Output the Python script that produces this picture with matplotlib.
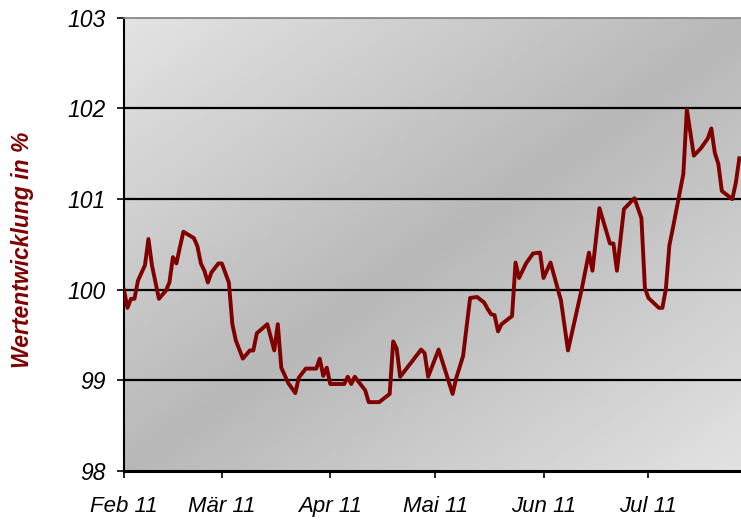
import matplotlib
matplotlib.use("Agg")
import matplotlib.pyplot as plt
import numpy as np
import pandas as pd

# values
dates = [
    "2011-02-01", "2011-02-02", "2011-02-03", "2011-02-04", "2011-02-05",
    "2011-02-07", "2011-02-08", "2011-02-09", "2011-02-11", "2011-02-13",
    "2011-02-14", "2011-02-15", "2011-02-16", "2011-02-17", "2011-02-18",
    "2011-02-21", "2011-02-22", "2011-02-23", "2011-02-24", "2011-02-25",
    "2011-02-26", "2011-02-28", "2011-03-01", "2011-03-03", "2011-03-04",
    "2011-03-05", "2011-03-07", "2011-03-09", "2011-03-10", "2011-03-11",
    "2011-03-14", "2011-03-16", "2011-03-17", "2011-03-18", "2011-03-20",
    "2011-03-22", "2011-03-23", "2011-03-25", "2011-03-28", "2011-03-29",
    "2011-03-30", "2011-03-31", "2011-04-01", "2011-04-05", "2011-04-06",
    "2011-04-07", "2011-04-08", "2011-04-11", "2011-04-12", "2011-04-15",
    "2011-04-18", "2011-04-19", "2011-04-20", "2011-04-21", "2011-04-27",
    "2011-04-28", "2011-04-29", "2011-05-02", "2011-05-06", "2011-05-07",
    "2011-05-09", "2011-05-11", "2011-05-13", "2011-05-15", "2011-05-16",
    "2011-05-17", "2011-05-18", "2011-05-19", "2011-05-20", "2011-05-23",
    "2011-05-24", "2011-05-25", "2011-05-27", "2011-05-29", "2011-05-31",
    "2011-06-01", "2011-06-03", "2011-06-06", "2011-06-08", "2011-06-12",
    "2011-06-14", "2011-06-15", "2011-06-17", "2011-06-20", "2011-06-21",
    "2011-06-22", "2011-06-24", "2011-06-27", "2011-06-29", "2011-06-30",
    "2011-07-01", "2011-07-04", "2011-07-05", "2011-07-06", "2011-07-07",
    "2011-07-08", "2011-07-11", "2011-07-12", "2011-07-14", "2011-07-16",
    "2011-07-18", "2011-07-19", "2011-07-20", "2011-07-21", "2011-07-22",
    "2011-07-25", "2011-07-26", "2011-07-27",
]
values = [
    100.00, 99.80, 99.90, 99.90, 100.10,
    100.27, 100.56, 100.27, 99.90, 99.99,
    100.08, 100.36, 100.29, 100.47, 100.64,
    100.57, 100.48, 100.29, 100.21, 100.08,
    100.19, 100.29, 100.29, 100.08, 99.62,
    99.44, 99.24, 99.33, 99.33, 99.52,
    99.62, 99.33, 99.62, 99.14, 98.97,
    98.86, 99.03, 99.13, 99.13, 99.24,
    99.05, 99.14, 98.96, 98.96, 99.04,
    98.96, 99.04, 98.89, 98.76, 98.76,
    98.85, 99.43, 99.35, 99.04, 99.34,
    99.30, 99.04, 99.34, 98.85, 99.02,
    99.27, 99.91, 99.92, 99.86, 99.79,
    99.73, 99.72, 99.54, 99.62, 99.71,
    100.30, 100.13, 100.29, 100.40, 100.41,
    100.13, 100.30, 99.88, 99.33, 100.02,
    100.41, 100.21, 100.90, 100.51, 100.51,
    100.21, 100.89, 101.01, 100.79, 100.02,
    99.91, 99.80, 99.80, 100.01, 100.49,
    100.68, 101.28, 101.99, 101.48, 101.56,
    101.67, 101.78, 101.51, 101.39, 101.09,
    101.00, 101.18, 101.45,
]
month_starts = ["2011-02-01", "2011-03-01", "2011-04-01", "2011-05-01",
                "2011-06-01", "2011-07-01"]
month_labels = ["Feb 11", "Mär 11", "Apr 11", "Mai 11", "Jun 11", "Jul 11"]
y_ticks = [98, 99, 100, 101, 102, 103]

plt.rcParams['font.family'] = ['Liberation Sans', 'DejaVu Sans']

fig = plt.figure(figsize=(7.41, 5.30), dpi=100)
fig.patch.set_facecolor('white')
# axes runs past the right edge, as in the reference
ax = fig.add_axes([0.1673, 0.1113, 0.854, 0.855])

# diagonal grey gradient background
n = 200
u, v = np.meshgrid(np.linspace(0, 1, n), np.linspace(0, 1, n))
z = 0.72 + (0.89 - 0.72) * np.abs(u - v)
ax.imshow(z, extent=(0, 1, 0, 1), transform=ax.transAxes, origin='lower',
          cmap='gray', vmin=0, vmax=1, aspect='auto', zorder=0,
          interpolation='bilinear')

x = pd.to_datetime(dates)
ax.plot(x, values, color='#800000', linewidth=2.8, zorder=3)

ax.set_xlim(pd.Timestamp("2011-02-01"), pd.Timestamp("2011-08-01"))
ax.set_ylim(98, 103)

ax.set_yticks(y_ticks)
ax.set_yticklabels([str(t) for t in y_ticks], fontsize=16.5, style='italic')
ax.set_xticks(pd.to_datetime(month_starts))
ax.set_xticklabels(month_labels, fontsize=16, style='italic')
ax.tick_params(axis='y', direction='out', length=5, width=1.2, pad=8)
ax.tick_params(axis='x', direction='out', length=5, width=1.2, pad=13)

for t in y_ticks[1:-1]:
    ax.axhline(t, color='black', linewidth=1.6, zorder=2)

ax.spines['left'].set_linewidth(1.5)
ax.spines['bottom'].set_linewidth(2.2)
ax.spines['top'].set_color('#808080')
ax.spines['top'].set_linewidth(1.2)
ax.spines['right'].set_visible(False)

fig.text(0.03, 0.528, "Wertentwicklung in %", rotation=90, color='#800000',
         fontsize=16.5, fontweight='bold', style='italic',
         ha='center', va='center')

fig.savefig("out.png", dpi=100)
